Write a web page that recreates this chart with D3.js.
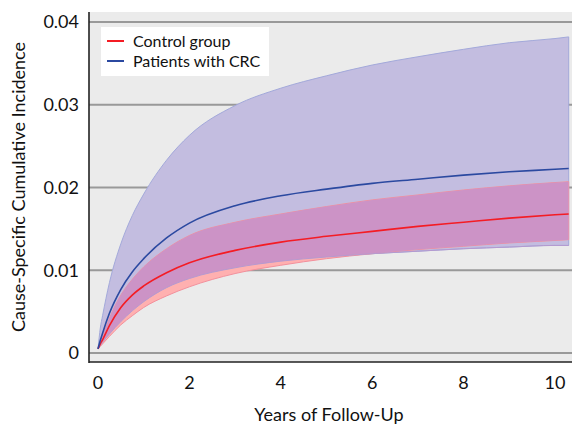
<!DOCTYPE html>
<html>
<head>
<meta charset="utf-8">
<script src="https://cdn.jsdelivr.net/npm/d3@7"></script>
<style>
	body { margin: 0; background: #fff; }
	svg { display: block; font-family: Lato, 'Open Sans', sans-serif; }
	.tick-label { font-size: 18px; fill: #111; }
	.axis-title { font-size: 18px; fill: #111; }
	.legend-text { font-size: 16px; fill: #111; }
</style>
</head>
<body>
<div id="chart"></div>
<script>
// years of follow-up
const years = [0, 0.05, 0.1, 0.25, 0.5, 0.75, 1, 1.5, 2, 3, 4, 5, 6, 7, 8, 9, 10, 10.3];

// patients with CRC
const crcEst   = [0.0005, 0.0015, 0.0024, 0.0048, 0.0077, 0.0098, 0.0114, 0.0139, 0.0157, 0.0178, 0.0190, 0.0198, 0.0205, 0.0210, 0.0215, 0.0219, 0.0222, 0.0223];
const crcLower = [0.0005, 0.0009, 0.0013, 0.0023, 0.0038, 0.0051, 0.0062, 0.0079, 0.0090, 0.0103, 0.0111, 0.0116, 0.0120, 0.0123, 0.0126, 0.0128, 0.0130, 0.0130];
const crcUpper = [0.0005, 0.0030, 0.0045, 0.0085, 0.0132, 0.0166, 0.0192, 0.0233, 0.0263, 0.0299, 0.0320, 0.0335, 0.0348, 0.0358, 0.0367, 0.0375, 0.0380, 0.0382];

// control group
const ctrlEst   = [0.0005, 0.0011, 0.0016, 0.0033, 0.0055, 0.0070, 0.0081, 0.0097, 0.0109, 0.0124, 0.0134, 0.0141, 0.0147, 0.0153, 0.0158, 0.0163, 0.0167, 0.0168];
const ctrlLower = [0.0005, 0.0008, 0.0011, 0.0020, 0.0034, 0.0045, 0.0055, 0.0069, 0.0080, 0.0096, 0.0106, 0.0114, 0.0120, 0.0125, 0.0129, 0.0133, 0.0136, 0.0137];
const ctrlUpper = [0.0005, 0.0013, 0.0020, 0.0042, 0.0070, 0.0089, 0.0104, 0.0126, 0.0142, 0.0158, 0.0168, 0.0177, 0.0185, 0.0191, 0.0197, 0.0202, 0.0206, 0.0207];

const xTicks = [0, 2, 4, 6, 8, 10];
const yTicks = [0, 0.01, 0.02, 0.03, 0.04];
const legendLabels = ['Control group', 'Patients with CRC'];

const width = 572;
const height = 425;
const panel = { left: 89, top: 12, right: 572, bottom: 362 };

const x = d3.scaleLinear().domain([0, 10]).range([98, 555]);
const y = d3.scaleLinear().domain([0, 0.04]).range([353, 22]);

const svg = d3.select('#chart')
	.append('svg')
	.attr('width', width)
	.attr('height', height);

// grey panel
svg.append('rect')
	.attr('x', panel.left)
	.attr('y', panel.top)
	.attr('width', panel.right - panel.left)
	.attr('height', panel.bottom - panel.top)
	.attr('fill', '#ebebeb');

// gridlines
svg.append('g')
	.selectAll('line')
	.data(yTicks)
	.join('line')
	.attr('x1', panel.left)
	.attr('x2', panel.right)
	.attr('y1', d => y(d))
	.attr('y2', d => y(d))
	.attr('stroke', '#999')
	.attr('stroke-width', 2);

const band = (lo, hi) => d3.area()
	.curve(d3.curveMonotoneX)
	.x((d, i) => x(years[i]))
	.y0((d, i) => y(lo[i]))
	.y1((d, i) => y(hi[i]));

const line = vals => d3.line()
	.curve(d3.curveMonotoneX)
	.x((d, i) => x(years[i]))
	.y((d, i) => y(vals[i]))(years);

const crcBand = band(crcLower, crcUpper)(years);
const ctrlBand = band(ctrlLower, ctrlUpper)(years);

svg.append('clipPath')
	.attr('id', 'crc-clip')
	.append('path')
	.attr('d', crcBand);

// CRC confidence band
svg.append('path')
	.attr('d', crcBand)
	.attr('fill', '#c3bde0')
	.attr('stroke', '#a3a9da')
	.attr('stroke-width', 1);

// control confidence band
svg.append('path')
	.attr('d', ctrlBand)
	.attr('fill', '#ffb0b0')
	.attr('stroke', '#f3909c')
	.attr('stroke-width', 1);

// overlap of the two bands
svg.append('path')
	.attr('d', ctrlBand)
	.attr('clip-path', 'url(#crc-clip)')
	.attr('fill', '#cc93c6');

// lower CRC bound shows as a faint edge through the pink
svg.append('path')
	.attr('d', line(crcLower))
	.attr('fill', 'none')
	.attr('stroke', '#b59ad0')
	.attr('stroke-width', 1);

// estimate lines
svg.append('path')
	.attr('d', line(ctrlEst))
	.attr('fill', 'none')
	.attr('stroke', '#f41c24')
	.attr('stroke-width', 1.6);

svg.append('path')
	.attr('d', line(crcEst))
	.attr('fill', 'none')
	.attr('stroke', '#2b49a0')
	.attr('stroke-width', 1.6);

// axis lines
svg.append('line')
	.attr('x1', panel.left).attr('x2', panel.left)
	.attr('y1', panel.top).attr('y2', panel.bottom + 1)
	.attr('stroke', '#222').attr('stroke-width', 1.6);

svg.append('line')
	.attr('x1', panel.left).attr('x2', panel.right)
	.attr('y1', panel.bottom).attr('y2', panel.bottom)
	.attr('stroke', '#222').attr('stroke-width', 1.6);

// tick labels
svg.append('g')
	.selectAll('text')
	.data(yTicks)
	.join('text')
	.attr('class', 'tick-label')
	.attr('x', 79)
	.attr('y', d => y(d))
	.attr('dy', '0.35em')
	.attr('text-anchor', 'end')
	.text(d => d === 0 ? '0' : d3.format('.2f')(d));

svg.append('g')
	.selectAll('text')
	.data(xTicks)
	.join('text')
	.attr('class', 'tick-label')
	.attr('x', d => x(d))
	.attr('y', 383)
	.attr('dy', '0.35em')
	.attr('text-anchor', 'middle')
	.text(d => d);

// axis titles
svg.append('text')
	.attr('class', 'axis-title')
	.attr('x', 329)
	.attr('y', 421)
	.attr('text-anchor', 'middle')
	.text('Years of Follow-Up');

svg.append('text')
	.attr('class', 'axis-title')
	.attr('transform', 'translate(25,187) rotate(-90)')
	.attr('text-anchor', 'middle')
	.text('Cause-Specific Cumulative Incidence');

// legend
const legend = svg.append('g');
legend.append('rect')
	.attr('x', 101).attr('y', 27)
	.attr('width', 168).attr('height', 49)
	.attr('fill', '#fff');

const legendColours = ['#f41c24', '#2b49a0'];
legendLabels.forEach((label, i) => {
	const ly = 41 + i * 20;
	legend.append('line')
		.attr('x1', 107).attr('x2', 124)
		.attr('y1', ly).attr('y2', ly)
		.attr('stroke', legendColours[i])
		.attr('stroke-width', 2);
	legend.append('text')
		.attr('class', 'legend-text')
		.attr('x', 133)
		.attr('y', ly)
		.attr('dy', '0.35em')
		.text(label);
});
</script>
</body>
</html>
